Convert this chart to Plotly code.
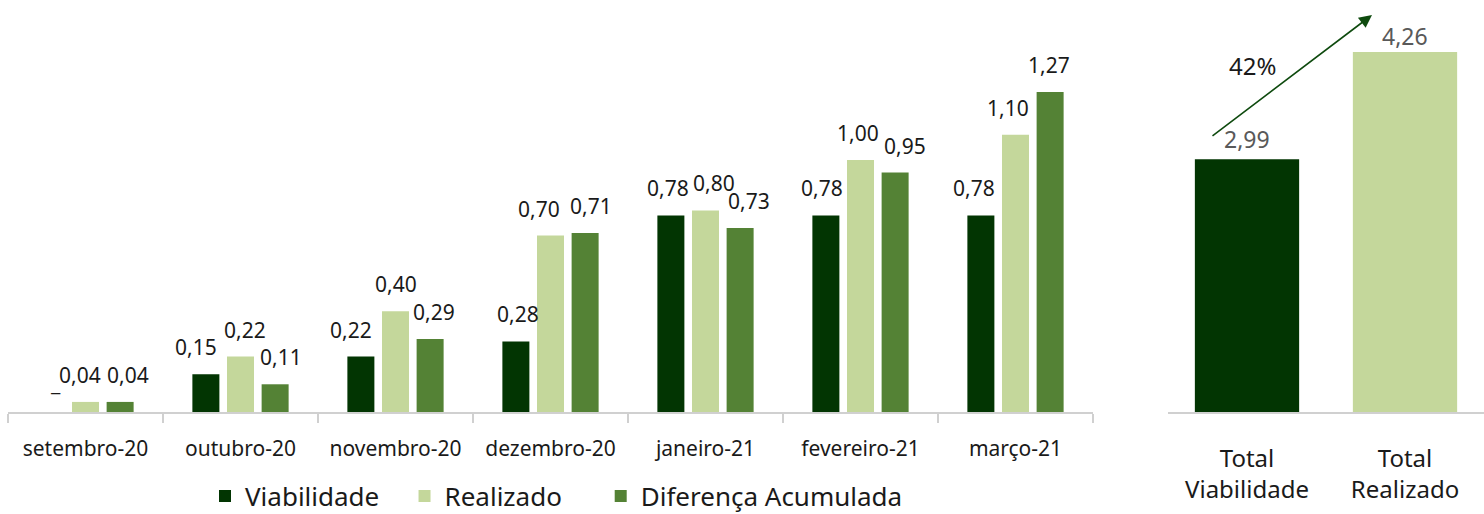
import plotly.graph_objects as go
from plotly.subplots import make_subplots

months = ["setembro-20", "outubro-20", "novembro-20", "dezembro-20", "janeiro-21", "fevereiro-21", "março-21"]
viabilidade = [0.0, 0.15, 0.22, 0.28, 0.78, 0.78, 0.78]
realizado = [0.04, 0.22, 0.40, 0.70, 0.80, 1.00, 1.10]
diferenca = [0.04, 0.11, 0.29, 0.71, 0.73, 0.95, 1.27]

total_labels = ["Total<br>Viabilidade", "Total<br>Realizado"]
total_values = [2.99, 4.26]
growth_label = "42%"

C_DARK = "#023502"
C_LIGHT = "#C4D79B"
C_MID = "#548235"
FONT = "Noto Sans"
PADS = ["\u00a0\u00a0\u00a0", "\u00a0\u00a0\u00a0\u00a0\u00a0", ""]  # extra spacing between legend entries

# manual horizontal nudges (px) of the data labels, as in the original
nudge = {
    "Viabilidade": [5, -10, -10, 2, -3, -4, -7],
    "Realizado": [-6, 4, 0, -12, 8, -3, -8],
    "Diferença Acumulada": [8, 6, 4, 6, 9, 10, -1],
}

def fmt(v):
    if v == 0:
        return "_"
    return f"{v:.2f}".replace(".", ",")

W, H = 1484, 514
L_DOM = [8 / W, 1093 / W]
R_DOM = [1168 / W, 1.0]
BARGAP, BARGROUPGAP = 0.33, 0.22
cat_px = (L_DOM[1] - L_DOM[0]) * W / len(months)
slot_px = cat_px * (1 - BARGAP) / 3

fig = make_subplots(rows=1, cols=2, horizontal_spacing=0.05)

series = [("Viabilidade", viabilidade, C_DARK),
          ("Realizado", realizado, C_LIGHT),
          ("Diferença Acumulada", diferenca, C_MID)]
for k, (name, vals, col) in enumerate(series):
    fig.add_trace(go.Bar(
        x=months, y=vals, name=name + PADS[k],
        marker=dict(color=col, line=dict(width=0)),
    ), row=1, col=1)
    for i, (m, v) in enumerate(zip(months, vals)):
        fig.add_annotation(
            x=m, y=v, xref="x", yref="y", showarrow=False,
            text=fmt(v), xshift=(k - 1) * slot_px + nudge[name][i],
            yshift=29 if v == 0 else 27, xanchor="center", yanchor="middle",
            font=dict(family=FONT, size=21, color="#1a1a1a"),
        )

fig.add_trace(go.Bar(
    x=total_labels, y=total_values, showlegend=False, width=0.66,
    marker=dict(color=[C_DARK, C_LIGHT], line=dict(width=0)),
), row=1, col=2)
for lab, v, ys in zip(total_labels, total_values, [20, 16]):
    fig.add_annotation(
        x=lab, y=v, xref="x2", yref="y2", showarrow=False, text=fmt(v),
        yshift=ys, xanchor="center", yanchor="middle",
        font=dict(family=FONT, size=23, color="#595959"),
    )

fig.update_layout(
    width=W, height=H,
    margin=dict(l=0, r=0, t=0, b=102),
    plot_bgcolor="white", paper_bgcolor="white",
    barmode="group", bargap=BARGAP, bargroupgap=BARGROUPGAP,
    font=dict(family=FONT, color="#1a1a1a"),
    legend=dict(orientation="h", x=205 / W, xref="paper", y=(H - 496) / H, yref="container",
                xanchor="left", yanchor="middle",
                font=dict(size=26, family=FONT, color="#1a1a1a"), itemwidth=30,
                traceorder="normal"),
)

fig.update_xaxes(domain=L_DOM, row=1, col=1, automargin=False,
                 showline=True, linecolor="#d0d0d0", linewidth=2,
                 ticks="outside", tickson="boundaries", ticklen=9, tickcolor="#d0d0d0", tickwidth=2,
                 ticklabelstandoff=17,
                 tickfont=dict(size=21, family=FONT, color="#1a1a1a"), showgrid=False)
fig.update_xaxes(domain=R_DOM, row=1, col=2, automargin=False,
                 showline=True, linecolor="#d0d0d0", linewidth=2, ticks="",
                 ticklabelstandoff=24,
                 tickfont=dict(size=24, family=FONT, color="#1a1a1a"), showgrid=False)
fig.update_yaxes(range=[0, 412 / 252], visible=False, row=1, col=1)
fig.update_yaxes(range=[0, 412 / 84.5], visible=False, row=1, col=2)

fig.add_annotation(
    xref="paper", yref="paper", x=1372 / W, y=(412 - 15) / 412,
    ax=1211 - 1372, ay=137 - 15, axref="pixel", ayref="pixel",
    showarrow=True, arrowhead=2, arrowsize=1.6, arrowwidth=1.6, arrowcolor="#0e4a0e", text="",
)
fig.add_annotation(
    xref="paper", yref="paper", x=1252 / W, y=(412 - 65) / 412, showarrow=False,
    xanchor="center", yanchor="middle",
    text=growth_label, font=dict(size=24, family=FONT, color="#1a1a1a"),
)

fig.write_html("out.html")
